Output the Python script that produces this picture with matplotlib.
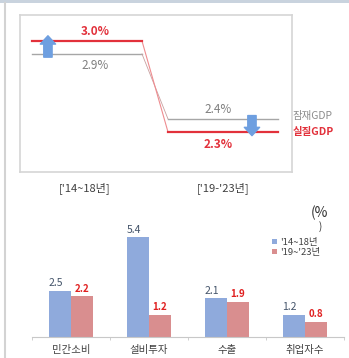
import matplotlib
matplotlib.use("Agg")
import matplotlib.pyplot as plt
from matplotlib.patches import FancyArrowPatch, Rectangle
from matplotlib.lines import Line2D

plt.rcParams['font.family'] = ['Noto Sans CJK KR', 'DejaVu Sans']

# ---- data ----
periods = ["['14~18년]", "['19-'23년]"]
real_gdp = [3.0, 2.3]          # 실질GDP
potential_gdp = [2.9, 2.4]     # 잠재GDP
line_names = ["잠재GDP", "실질GDP"]

categories = ["민간소비", "설비투자", "수출", "취업자수"]
series_names = ["'14~18년", "'19~'23년"]
values_1418 = [2.5, 5.4, 2.1, 1.2]
values_1923 = [2.2, 1.2, 1.9, 0.8]

# ---- style ----
W, H = 349, 358
RED = "#E2313B"
GRAY = "#A6A6A6"
ARROW = "#6E9FE0"
BLUE_BAR = "#8FAADC"
RED_BAR = "#D98E8F"
TXT = "#404040"

fig = plt.figure(figsize=(W / 100, H / 100), dpi=100)
fig.patch.set_facecolor("white")


def rect(l, t, r, b):
    return [l / W, 1 - b / H, (r - l) / W, (b - t) / H]


# outer decoration
fig.add_artist(Rectangle((0, 1 - 2.5 / H), 1, 2.5 / H, transform=fig.transFigure,
                         facecolor="#C9D3DE", edgecolor="none"))
fig.add_artist(Line2D([5 / W, 5 / W], [0, 1 - 2.5 / H], transform=fig.transFigure,
                      color="#D3D3D3", lw=1.5))

# ---- top chart ----
ax = fig.add_axes(rect(20, 15, 292, 172))
ax.set_xlim(-0.109, 2.364)
ax.set_ylim(1.99, 3.2)
ax.set_xticks([])
ax.set_yticks([])
for s in ax.spines.values():
    s.set_color("#D5D5D5")
    s.set_linewidth(1.2)

x1 = [0, 1]
x2 = [1.236, 2.236]
# period 1
ax.plot(x1, [potential_gdp[0]] * 2, color=GRAY, lw=1.0, zorder=2)
ax.plot(x1, [real_gdp[0]] * 2, color=RED, lw=1.6, zorder=3)
# transitions
ax.plot([x1[1], x2[0]], [potential_gdp[0], potential_gdp[1]], color="#C8A0A0", lw=0.6, zorder=2)
ax.plot([x1[1], x2[0]], [real_gdp[0], real_gdp[1]], color="#EE8C90", lw=0.8, zorder=2)
# period 2
ax.plot(x2, [potential_gdp[1]] * 2, color=GRAY, lw=1.0, zorder=2)
ax.plot(x2, [real_gdp[1]] * 2, color=RED, lw=1.6, zorder=3)

# value labels
ax.text(0.573, real_gdp[0] + 0.07, f"{real_gdp[0]:.1f}%", color=RED, fontsize=8.5,
        fontweight="bold", ha="center", va="center")
ax.text(0.573, potential_gdp[0] - 0.09, f"{potential_gdp[0]:.1f}%", color="#7F7F7F",
        fontsize=8.5, ha="center", va="center")
ax.text(1.69, potential_gdp[1] + 0.07, f"{potential_gdp[1]:.1f}%", color="#7F7F7F",
        fontsize=8.5, ha="center", va="center")
ax.text(1.69, real_gdp[1] - 0.1, f"{real_gdp[1]:.1f}%", color=RED, fontsize=8.5,
        fontweight="bold", ha="center", va="center")

# series names at right
ax.text(2.37, potential_gdp[1] + 0.025, line_names[0], color="#8C8C8C", fontsize=7.5,
        ha="left", va="center", clip_on=False)
ax.text(2.37, real_gdp[1] - 0.005, line_names[1], color=RED, fontsize=7.5,
        fontweight="bold", ha="left", va="center", clip_on=False)

# arrows
ax.add_patch(FancyArrowPatch((0.145, 2.875), (0.145, 3.04),
                             arrowstyle="simple,head_width=11,head_length=6,tail_width=6",
                             mutation_scale=1, color=ARROW, shrinkA=0, shrinkB=0, zorder=4))
ax.add_patch(FancyArrowPatch((2.0, 2.425), (2.0, 2.27),
                             arrowstyle="simple,head_width=11,head_length=6,tail_width=6",
                             mutation_scale=1, color=ARROW, shrinkA=0, shrinkB=0, zorder=4))

# period labels
fig.text(85 / W, 1 - 188 / H, periods[0], color=TXT, fontsize=8, ha="center", va="center")
fig.text(223 / W, 1 - 188 / H, periods[1], color=TXT, fontsize=8, ha="center", va="center")

# ---- bottom chart ----
bx = fig.add_axes(rect(32, 208, 344, 337))
bx.set_xlim(-0.5, 3.5)
bx.set_ylim(0, 7.0)
bx.patch.set_alpha(0)
xs = list(range(len(categories)))
bw = 0.285
b1 = bx.bar([x - bw / 2 for x in xs], values_1418, width=bw, color=BLUE_BAR,
            label=series_names[0])
b2 = bx.bar([x + bw / 2 for x in xs], values_1923, width=bw, color=RED_BAR,
            label=series_names[1])
for r, v in zip(b1, values_1418):
    bx.annotate(f"{v:.1f}", (r.get_x() + r.get_width() / 2, v), xytext=(-3, 2),
                textcoords="offset points", ha="center", va="bottom",
                fontsize=7.5, color="#44546A")
for r, v in zip(b2, values_1923):
    bx.annotate(f"{v:.1f}", (r.get_x() + r.get_width() / 2, v), xytext=(0, 2),
                textcoords="offset points", ha="center", va="bottom",
                fontsize=7, color="#E02020", fontweight="bold")

for side in ["top", "right", "left"]:
    bx.spines[side].set_visible(False)
bx.spines["bottom"].set_color("#C8C8C8")
bx.spines["bottom"].set_linewidth(0.8)
bx.set_yticks([])
bx.set_xticks(xs)
bx.set_xticklabels(categories, fontsize=7.5, color=TXT)
bx.tick_params(axis="x", length=0, pad=6)
bx.set_xticks([-0.5, 0.5, 1.5, 2.5, 3.5], minor=True)
bx.tick_params(axis="x", which="minor", length=2, color="#C8C8C8")

leg = bx.legend(handles=[b1, b2], labels=series_names, frameon=False, fontsize=6.8,
                handlelength=0.6, handleheight=0.4, handletextpad=0.3,
                labelspacing=0.15, borderpad=0, loc="upper left",
                bbox_to_anchor=(267 / W, 1 - 233 / H), bbox_transform=fig.transFigure)
for t in leg.get_texts():
    t.set_color(TXT)

fig.text(311 / W, 1 - 213 / H, "(%", fontsize=10, color="#303030", ha="left", va="center")
fig.text(319 / W, 1 - 227 / H, ")", fontsize=7, color="#303030", ha="left", va="center")

fig.savefig("out.png", dpi=100, facecolor="white")
